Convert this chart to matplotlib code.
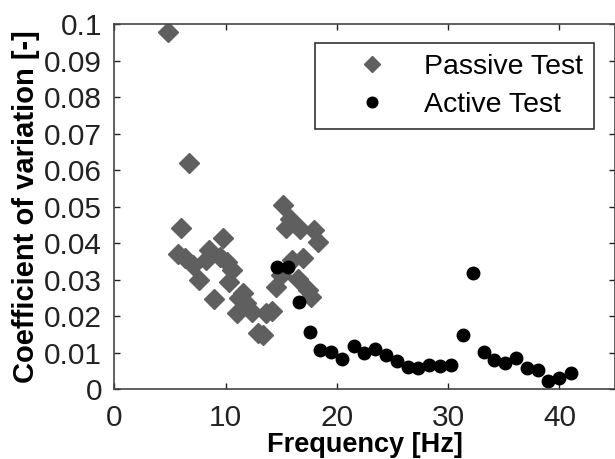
import matplotlib
matplotlib.use("Agg")
import matplotlib.pyplot as plt

plt.rcParams['font.family'] = ['Liberation Sans', 'DejaVu Sans']

# passive test (grey diamonds)
passive_f = [4.82, 6.67, 5.95, 5.74, 6.34, 7.03, 7.62, 8.52, 8.22, 8.94,
             9.72, 9.48, 10.08, 10.6, 10.3, 11.57, 11.2, 10.98, 11.87, 12.4,
             12.9, 13.4, 13.67, 14.2, 14.5, 15.16, 15.8, 15.46, 16.7, 17.9,
             18.3, 16.95, 16.0, 15.0, 16.5, 17.4, 17.7]
passive_cv = [0.0979, 0.0618, 0.0440, 0.0370, 0.0358, 0.0340, 0.0299, 0.0381, 0.0353, 0.0246,
              0.0413, 0.0362, 0.0349, 0.0326, 0.0294, 0.0262, 0.0248, 0.0207, 0.0235, 0.0210,
              0.0153, 0.0148, 0.0207, 0.0214, 0.0280, 0.0505, 0.0465, 0.0440, 0.0437, 0.0436,
              0.0404, 0.0358, 0.0353, 0.0312, 0.0301, 0.0271, 0.0253]

# active test (black circles)
active_f = [14.6, 15.6, 16.6, 17.55, 18.5, 19.5, 20.5, 21.5, 22.4, 23.4,
            24.4, 25.4, 26.4, 27.3, 28.3, 29.3, 30.3, 31.3, 32.26, 33.2,
            34.1, 35.1, 36.1, 37.1, 38.1, 39.0, 40.0, 41.0]
active_cv = [0.0335, 0.0333, 0.0239, 0.0157, 0.0107, 0.0102, 0.0081, 0.0118, 0.0100, 0.0109,
             0.0093, 0.0077, 0.0061, 0.0057, 0.0066, 0.0064, 0.0066, 0.0148, 0.0319, 0.0102,
             0.0079, 0.0072, 0.0084, 0.0057, 0.0052, 0.0023, 0.0029, 0.0043]

fig = plt.figure(figsize=(6.15, 4.59), dpi=100)
ax = fig.add_axes([0.186, 0.1525, 0.814, 0.7952])

ax.plot(passive_f, passive_cv, 'D', color='#5f5f5f', markersize=10,
        markeredgecolor='#5f5f5f', label='Passive Test')
ax.plot(active_f, active_cv, 'o', color='black', markersize=9,
        label='Active Test')

ax.set_xlim(0, 45)
ax.set_ylim(0, 0.1)
ax.set_xticks([0, 10, 20, 30, 40])
ax.set_yticks([0, 0.01, 0.02, 0.03, 0.04, 0.05, 0.06, 0.07, 0.08, 0.09, 0.1])
ax.set_yticklabels(['0', '0.01', '0.02', '0.03', '0.04', '0.05', '0.06',
                    '0.07', '0.08', '0.09', '0.1'])
ax.tick_params(direction='in', top=True, right=True, length=4, width=1,
               labelsize=21.5, colors='#222222')
ax.tick_params(axis='y', pad=9)
ax.tick_params(axis='x', pad=11)
for s in ax.spines.values():
    s.set_color('#444444')
    s.set_linewidth(1.2)

ax.set_xlabel('Frequency [Hz]', fontsize=19.5, fontweight='bold', labelpad=0)
ax.set_ylabel('Coefficient of variation [-]', fontsize=21, fontweight='bold', labelpad=3)

leg = ax.legend(loc='upper right', bbox_to_anchor=(0.958, 0.948), fontsize=20.5,
                fancybox=False, edgecolor='#333333', framealpha=1,
                handlelength=3.2, handletextpad=0.2, borderpad=0.4,
                labelspacing=0.4, borderaxespad=0, markerscale=0.85)
leg.get_frame().set_linewidth(1.2)

fig.savefig('out.png', dpi=100)
